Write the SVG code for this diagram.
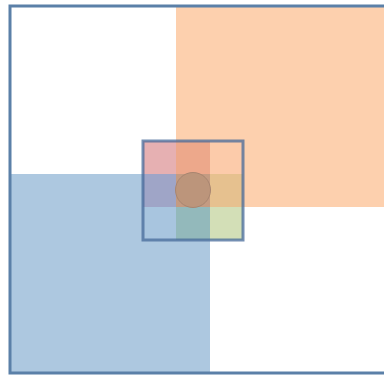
<svg xmlns="http://www.w3.org/2000/svg" width="384" height="376" viewBox="0 0 384 376">
<style>
.frame{fill:none;stroke:#5b80a8;stroke-width:3}
.inner{fill:none;stroke:#46699a;stroke-opacity:0.75;stroke-width:3}
</style>
<rect x="0" y="0" width="384" height="376" fill="#ffffff"/>
<g id="orange"><rect x="176" y="7" width="210" height="200" fill="#fdd0ae"/></g>
<g id="blue"><rect x="10" y="174" width="200" height="198" fill="#adc8e0"/></g>
<g id="grid">
<rect x="143" y="141" width="33" height="33" fill="#e6b0b2"/>
<rect x="176" y="141" width="34" height="33" fill="#eda88b"/>
<rect x="210" y="141" width="33" height="33" fill="#fccbaa"/>
<rect x="143" y="174" width="33" height="33" fill="#9fa5c7"/>
<rect x="176" y="174" width="34" height="33" fill="#c49b82"/>
<rect x="210" y="174" width="33" height="33" fill="#e6c18f"/>
<rect x="143" y="207" width="33" height="33" fill="#a8c5df"/>
<rect x="176" y="207" width="34" height="33" fill="#93b9bb"/>
<rect x="210" y="207" width="33" height="33" fill="#d3dfb7"/>
</g>
<g id="circle"><circle cx="193" cy="190" r="17.5" fill="#bc957b" stroke="#a88570" stroke-width="1"/></g>
<g id="inner-square"><rect class="inner" x="143" y="141" width="100" height="99"/></g>
<g id="outer-frame"><rect class="frame" x="10" y="6" width="390" height="367"/></g>
</svg>
